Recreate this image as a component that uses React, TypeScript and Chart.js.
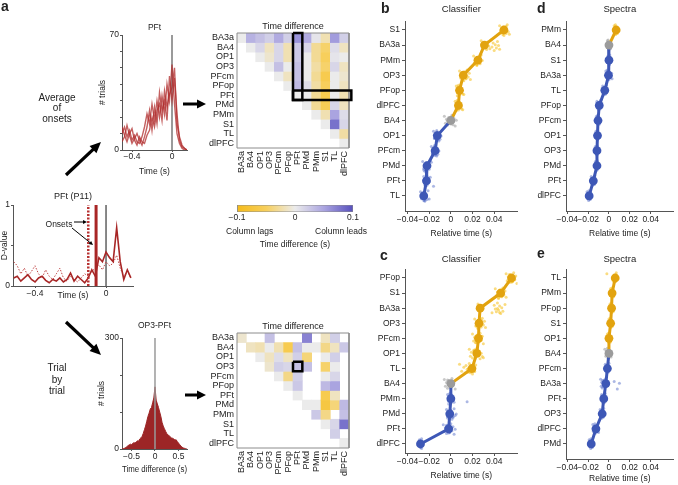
import React, { useEffect, useRef } from 'react';
import { Chart, registerables } from 'chart.js';

Chart.register(...registerables);

const FONT = "'Liberation Sans', Arial, Helvetica, sans-serif";
Chart.defaults.font.family = FONT;
Chart.defaults.color = '#222';

// ---------------- DATA ----------------
// a (top): onset histograms, PFt
const ONSET_T = [-0.5, -0.475, -0.45, -0.425, -0.4, -0.375, -0.35, -0.325, -0.3, -0.275, -0.25, -0.225, -0.2, -0.175, -0.15, -0.125, -0.1, -0.075, -0.05, -0.025, 0, 0.025, 0.05, 0.075, 0.1, 0.125, 0.15];
const ONSET_1 = [10, 14, 8, 12, 6, 9, 5, 4, 8, 14, 22, 16, 28, 18, 30, 20, 33, 22, 40, 30, 52, 28, 10, 4, 1, 0, 0];
const ONSET_2 = [5, 8, 15, 9, 4, 7, 10, 6, 3, 8, 14, 24, 12, 26, 16, 35, 24, 30, 18, 45, 30, 44, 22, 6, 2, 1, 0];
const ONSET_3 = [14, 9, 5, 10, 13, 6, 3, 8, 5, 4, 9, 12, 20, 14, 24, 28, 18, 36, 26, 34, 38, 50, 16, 8, 3, 1, 0];
const ONSET_YTICKS = [0, 10, 20, 30, 40, 50, 60, 70];

// a (middle): D-value trace PFt (P11)
const D_T = [-0.52, -0.5, -0.48, -0.46, -0.44, -0.42, -0.4, -0.38, -0.36, -0.34, -0.32, -0.3, -0.28, -0.26, -0.24, -0.22, -0.2, -0.18, -0.16, -0.14, -0.12, -0.1, -0.08, -0.06, -0.04, -0.02, 0, 0.02, 0.04, 0.06, 0.08, 0.1, 0.12, 0.14];
const D_SOLID = [0.1, 0.12, 0.06, 0.1, 0.14, 0.08, 0.05, 0.1, 0.12, 0.07, 0.04, 0.08, 0.06, 0.1, 0.05, 0.08, 0.16, 0.06, 0.12, 0.08, 0.04, 0.1, 0.2, 0.12, 0.35, 0.3, 0.42, 0.35, 0.3, 0.72, 0.3, 0.08, 0.2, 0.1];
const D_DOTTED = [0.3, 0.25, 0.15, 0.22, 0.12, 0.18, 0.25, 0.15, 0.1, 0.2, 0.12, 0.08, 0.15, 0.22, 0.1, 0.06, 0.12, 0.08, 0.05, 0.1, 0.15, 0.12, 0.18, 0.22, 0.26, 0.2, 0.3, 0.25, 0.28, 0.38, 0.22, 0.12, 0.18, 0.1];
const ONSET_DOTTED = -0.1;
const ONSET_SOLID = -0.056;

// a (bottom): trial-by-trial OP3-PFt time differences
const DIFF_T = [-0.7, -0.675, -0.65, -0.625, -0.6, -0.575, -0.55, -0.525, -0.5, -0.475, -0.45, -0.425, -0.4, -0.375, -0.35, -0.325, -0.3, -0.275, -0.25, -0.225, -0.2, -0.175, -0.15, -0.125, -0.1, -0.075, -0.05, -0.025, 0, 0.025, 0.05, 0.075, 0.1, 0.125, 0.15, 0.175, 0.2, 0.225, 0.25, 0.275, 0.3, 0.325, 0.35, 0.375, 0.4, 0.425, 0.45, 0.475, 0.5, 0.525, 0.55, 0.575, 0.6, 0.625, 0.65, 0.675, 0.7];
const DIFF_N = [1, 1, 2, 4, 6, 9, 11, 13, 12, 15, 17, 16, 19, 22, 21, 27, 30, 34, 42, 52, 62, 75, 88, 97, 108, 112, 125, 138, 168, 132, 122, 112, 100, 88, 72, 62, 55, 48, 42, 38, 36, 33, 30, 29, 27, 24, 25, 20, 16, 12, 8, 5, 3, 2, 1, 0, 0];

// heatmaps
const AREAS = ['BA3a', 'BA4', 'OP1', 'OP3', 'PFcm', 'PFop', 'PFt', 'PMd', 'PMm', 'S1', 'TL', 'dlPFC'];
const N = null;
const HEAT_AVG = [
  [0, 0.04, 0.03, 0.02, 0.045, 0.02, 0.06, 0.045, 0.005, -0.02, 0.055, 0.02],
  [N, 0, 0.015, -0.015, 0.015, -0.02, 0.025, 0.015, -0.03, -0.045, 0.01, -0.015],
  [N, N, 0, -0.01, 0.015, -0.02, 0.025, 0, -0.03, -0.05, 0.005, 0],
  [N, N, N, 0, 0.03, 0, 0.03, 0, -0.025, -0.045, 0.015, -0.015],
  [N, N, N, N, 0, -0.015, 0.03, 0, -0.03, -0.06, 0, -0.01],
  [N, N, N, N, N, 0, 0.035, 0.01, -0.025, -0.05, 0, -0.015],
  [N, N, N, N, N, N, 0, 0, -0.03, -0.06, 0, -0.02],
  [N, N, N, N, N, N, N, 0, -0.03, -0.055, 0.015, -0.015],
  [N, N, N, N, N, N, N, N, 0, -0.02, 0.05, 0.01],
  [N, N, N, N, N, N, N, N, N, 0, 0.08, 0.015],
  [N, N, N, N, N, N, N, N, N, N, 0, -0.025],
  [N, N, N, N, N, N, N, N, N, N, N, 0],
];
const HEAT_TRIAL = [
  [-0.01, N, N, 0.03, N, N, N, 0.07, N, -0.015, 0.02, N],
  [N, -0.015, -0.02, 0, -0.02, -0.06, 0.03, 0, 0, -0.035, -0.015, 0.025],
  [N, N, 0, -0.015, 0.01, -0.015, 0.02, -0.04, N, 0, 0.02, N],
  [N, N, N, -0.01, 0.02, 0.015, 0.03, 0.03, N, -0.045, 0, N],
  [N, N, N, N, 0, -0.035, 0.02, N, N, 0, 0.015, N],
  [N, N, N, N, N, 0, 0.025, N, N, 0.035, 0.05, N],
  [N, N, N, N, N, N, 0, N, N, -0.06, -0.015, N],
  [N, N, N, N, N, N, N, 0, 0, -0.07, -0.04, 0.035],
  [N, N, N, N, N, N, N, N, 0.025, -0.035, N, 0.03],
  [N, N, N, N, N, N, N, N, N, 0, 0.015, 0.08],
  [N, N, N, N, N, N, N, N, N, N, 0.02, N],
  [N, N, N, N, N, N, N, N, N, N, N, 0],
];
// highlighted cells: [col0, row0, col1, row1]
const HEAT_AVG_BOXES = [[6, 0, 6, 6], [6, 6, 11.25, 6]];
const HEAT_TRIAL_BOXES = [[6, 3, 6, 3]];

// colour scale
const CMAP_VALUES = [-0.1, -0.05, 0, 0.05, 0.1];
const CMAP_COLORS = ['#f5bb1a', '#f7cf5c', '#ebebeb', '#aaa4e0', '#5750bd'];
const CBAR_TICKS = [-0.1, 0, 0.1];

// b-e: relative timing
const REL_TICKS = [-0.04, -0.02, 0, 0.02, 0.04];
const CLOUD_DY = [-0.28, 0.18, -0.08, 0.3, -0.2, 0.06, 0.24, -0.34, 0.12, -0.14, 0.36, -0.02, 0.2, -0.24, 0.02, 0.28];

const B_ROWS = ['S1', 'BA3a', 'PMm', 'OP3', 'PFop', 'dlPFC', 'BA4', 'OP1', 'PFcm', 'PMd', 'PFt', 'TL'];
const B_MEANS = [0.049, 0.031, 0.025, 0.0115, 0.008, 0.007, 0, -0.0125, -0.0145, -0.022, -0.0225, -0.025];
const B_CLOUDS = [
  [0.045, 0.046, 0.047, 0.048, 0.049, 0.05, 0.051, 0.052, 0.053, 0.047, 0.049, 0.05, 0.048, 0.051, 0.046, 0.054],
  [0.028, 0.03, 0.032, 0.033, 0.034, 0.035, 0.036, 0.037, 0.038, 0.039, 0.04, 0.041, 0.042, 0.043, 0.044, 0.045],
  [0.021, 0.022, 0.023, 0.024, 0.025, 0.026, 0.027, 0.028, 0.023, 0.025, 0.024, 0.026, 0.022, 0.027, 0.029, 0.024],
  [0.008, 0.009, 0.01, 0.011, 0.012, 0.013, 0.014, 0.015, 0.016, 0.017, 0.012, 0.01, 0.014, 0.013, 0.011, 0.018],
  [0.005, 0.006, 0.007, 0.008, 0.009, 0.01, 0.011, 0.007, 0.008, 0.009, 0.006, 0.01, 0.008, 0.007, 0.009, 0.012],
  [0.004, 0.005, 0.006, 0.007, 0.008, 0.009, 0.01, 0.006, 0.007, 0.008, 0.005, 0.009, 0.007, 0.006, 0.008, 0.011],
  [-0.006, -0.005, -0.004, -0.003, -0.002, -0.001, 0, 0.001, 0.002, 0.003, 0.004, 0.005, -0.002, 0.001, -0.003, 0.002],
  [-0.016, -0.015, -0.014, -0.013, -0.012, -0.011, -0.01, -0.013, -0.012, -0.014, -0.011, -0.012, -0.015, -0.013, -0.009, -0.012],
  [-0.018, -0.017, -0.016, -0.015, -0.014, -0.013, -0.012, -0.015, -0.014, -0.016, -0.013, -0.014, -0.017, -0.015, -0.011, -0.014],
  [-0.026, -0.025, -0.024, -0.023, -0.022, -0.021, -0.02, -0.019, -0.023, -0.022, -0.024, -0.021, -0.022, -0.018, -0.023, -0.025],
  [-0.025, -0.024, -0.023, -0.022, -0.021, -0.02, -0.023, -0.022, -0.024, -0.021, -0.016, -0.022, -0.023, -0.019, -0.022, -0.024],
  [-0.028, -0.027, -0.026, -0.025, -0.024, -0.023, -0.022, -0.021, -0.025, -0.026, -0.024, -0.023, -0.02, -0.025, -0.027, -0.024],
];

const C_ROWS = ['PFop', 'S1', 'BA3a', 'OP3', 'PFcm', 'OP1', 'TL', 'BA4', 'PMm', 'PMd', 'PFt', 'dlPFC'];
const C_MEANS = [0.056, 0.046, 0.027, 0.026, 0.0255, 0.024, 0.0195, 0, 0, -0.001, -0.002, -0.028];
const C_CLOUDS = [
  [0.051, 0.052, 0.053, 0.054, 0.055, 0.056, 0.057, 0.058, 0.059, 0.06, 0.061, 0.055, 0.057, 0.054, 0.058, 0.056],
  [0.041, 0.042, 0.043, 0.044, 0.045, 0.046, 0.047, 0.048, 0.049, 0.05, 0.044, 0.046, 0.043, 0.047, 0.045, 0.051],
  [0.025, 0.027, 0.029, 0.038, 0.04, 0.041, 0.042, 0.043, 0.044, 0.045, 0.046, 0.047, 0.048, 0.05, 0.043, 0.045],
  [0.022, 0.023, 0.024, 0.025, 0.026, 0.027, 0.028, 0.029, 0.03, 0.031, 0.025, 0.027, 0.024, 0.028, 0.026, 0.032],
  [0.02, 0.021, 0.022, 0.023, 0.024, 0.025, 0.026, 0.027, 0.028, 0.029, 0.03, 0.024, 0.026, 0.025, 0.027, 0.023],
  [0.017, 0.018, 0.019, 0.02, 0.021, 0.022, 0.023, 0.024, 0.025, 0.026, 0.027, 0.028, 0.029, 0.022, 0.025, 0.03],
  [0.008, 0.01, 0.012, 0.013, 0.014, 0.015, 0.016, 0.017, 0.018, 0.019, 0.02, 0.021, 0.022, 0.023, 0.016, 0.018],
  [-0.006, -0.005, -0.004, -0.003, -0.002, -0.001, 0, 0.001, 0.002, 0.003, 0.004, -0.002, 0.001, -0.003, 0.002, 0],
  [-0.003, -0.002, -0.001, 0, 0.001, 0.002, 0.003, -0.001, 0.001, 0, -0.002, 0.002, 0.015, 0.001, -0.001, 0],
  [-0.004, -0.003, -0.002, -0.001, 0, 0.001, 0.002, 0.003, 0.004, -0.002, 0.001, -0.001, 0.002, 0, 0.005, -0.003],
  [-0.007, -0.006, -0.005, -0.004, -0.003, -0.002, -0.001, 0, 0.001, 0.002, 0.003, -0.003, -0.001, -0.004, 0.004, -0.002],
  [-0.029, -0.028, -0.028, -0.027, -0.028, -0.029, -0.028, -0.027],
];

const D_ROWS = ['PMm', 'BA4', 'S1', 'BA3a', 'TL', 'PFop', 'PFcm', 'OP1', 'OP3', 'PMd', 'PFt', 'dlPFC'];
const D_MEANS = [0.0069, 0, 0, -0.0005, -0.004, -0.0093, -0.0105, -0.011, -0.0115, -0.0115, -0.015, -0.019];
const D_CLOUDS = [
  [0.005, 0.0055, 0.006, 0.0065, 0.007, 0.0075, 0.008, 0.0062, 0.0072, 0.0068],
  [-0.0015, -0.001, -0.0005, 0, 0.0005, 0.001, 0.0015, -0.0008, 0.0003, 0.0008],
  [-0.001, -0.0005, 0, 0.0005, 0.001, -0.0003, 0.0003, 0.0008, -0.0008, 0],
  [-0.003, -0.002, -0.001, 0, 0.001, 0.002, 0.003, -0.0015, 0.0015, 0.0025],
  [-0.006, -0.0055, -0.005, -0.0045, -0.004, -0.0035, -0.003, -0.0025, -0.0042, -0.0038],
  [-0.0115, -0.011, -0.0105, -0.01, -0.0095, -0.009, -0.0085, -0.008, -0.0075, -0.0092],
  [-0.012, -0.0115, -0.011, -0.0105, -0.01, -0.0095, -0.009, -0.0108, -0.0102, -0.0112],
  [-0.0125, -0.012, -0.0115, -0.011, -0.0105, -0.01, -0.0112, -0.0108, -0.0118, -0.0102],
  [-0.013, -0.0125, -0.012, -0.0115, -0.011, -0.0105, -0.0118, -0.0112, -0.0122, -0.0108],
  [-0.013, -0.0125, -0.012, -0.0115, -0.011, -0.0105, -0.0116, -0.0113, -0.012, -0.011],
  [-0.017, -0.0165, -0.016, -0.0155, -0.015, -0.0145, -0.014, -0.0135, -0.0152, -0.0148],
  [-0.021, -0.0205, -0.02, -0.0195, -0.019, -0.0185, -0.018, -0.0192, -0.0188, -0.0198],
];

const E_ROWS = ['TL', 'PMm', 'PFop', 'S1', 'OP1', 'BA4', 'PFcm', 'BA3a', 'PFt', 'OP3', 'dlPFC', 'PMd'];
const E_MEANS = [0.006, 0.003, 0.0025, 0.0016, 0, 0, -0.0015, -0.003, -0.005, -0.0065, -0.0125, -0.017];
const E_CLOUDS = [
  [-0.002, 0.004, 0.0045, 0.005, 0.0055, 0.006, 0.0065, 0.007, 0.0058, 0.0062],
  [0.0015, 0.002, 0.0025, 0.003, 0.0035, 0.004, 0.0045, 0.0028, 0.0032, 0.003],
  [0.001, 0.0015, 0.002, 0.0025, 0.003, 0.0035, 0.004, 0.0022, 0.0028, 0.0025],
  [0, 0.0005, 0.001, 0.0015, 0.002, 0.0025, 0.003, 0.0012, 0.0018, 0.0016],
  [-0.0015, -0.001, -0.0005, 0, 0.0005, 0.001, 0.0015, -0.0003, 0.0003, 0],
  [-0.004, -0.003, -0.002, -0.001, 0, 0.001, 0.002, -0.0015, 0.0005, -0.0025],
  [-0.0035, -0.003, -0.0025, -0.002, -0.0015, -0.001, -0.0005, 0, -0.0018, -0.0012],
  [-0.008, -0.0075, -0.007, -0.0065, -0.006, -0.005, -0.004, -0.003, -0.002, 0.005, 0.008, 0.01, -0.0055, -0.0045],
  [-0.007, -0.0065, -0.006, -0.0055, -0.005, -0.0045, -0.004, -0.0035, -0.003, -0.0052],
  [-0.0085, -0.008, -0.0075, -0.007, -0.0065, -0.006, -0.0055, -0.005, -0.0068, -0.0062],
  [-0.0155, -0.015, -0.014, -0.013, -0.012, -0.011, -0.01, -0.0135, -0.0125, -0.0115],
  [-0.019, -0.0185, -0.018, -0.0175, -0.017, -0.0165, -0.016, -0.0172, -0.0178, -0.0168],
];

// ---------------- STYLE ----------------
const INK = '#222';
const AXIS = '#555';
const BLUE = '#3d57b6';
const GOLD = '#e2a30f';
const GRAY = '#9b9b9b';
const BLUE_L = 'rgba(72,98,196,0.45)';
const GOLD_L = 'rgba(247,197,45,0.6)';
const GRAY_L = 'rgba(165,165,165,0.6)';
const RED = 'rgba(176,44,44,0.75)';
const DARK_RED = '#9c2526';
const TICK_FONT = { family: FONT, size: 8.5 };
const HEAT_FONT = { family: FONT, size: 9 };

interface Geo { left: number; top: number; width: number; height: number; yW: number; xH: number; titlePad: number; padT: number; padR: number; padL: number; }
function makeGeo(p: { L: number; T: number; R: number; B: number; left: number; titleY?: number; titleSize?: number; padT?: number; bottom: number; padR: number; padL?: number }): Geo {
  const lh = (p.titleSize ?? 9) * 1.2;
  const top = p.titleY != null ? Math.round(p.titleY - lh / 2) : Math.round(p.T - (p.padT ?? 0));
  const titlePad = p.titleY != null ? p.T - top - lh : 0;
  const padT = p.titleY != null ? 0 : p.T - top;
  const padL = p.padL ?? 0;
  const width = Math.round(p.R + p.padR - p.left);
  const bottom = Math.round(p.bottom);
  return { left: p.left, top, width, height: bottom - top, yW: p.L - p.left - padL, xH: bottom - p.B, titlePad, padT, padR: p.left + width - p.R, padL };
}

const G_ONSET = makeGeo({ L: 122, T: 35, R: 187, B: 150, left: 98, titleY: 28, titleSize: 8.5, bottom: 177, padR: 3 });
const G_DVAL = makeGeo({ L: 13, T: 205, R: 133, B: 286, left: 0, titleY: 196, titleSize: 9, bottom: 301, padR: 3 });
const G_DIFF = makeGeo({ L: 122, T: 338, R: 187, B: 449, left: 97, titleY: 326, titleSize: 8.5, bottom: 475, padR: 3 });
const G_H1 = makeGeo({ L: 237, T: 33, R: 349, B: 148, left: 195, titleY: 26, titleSize: 9, bottom: 198, padR: 10 });
const G_H2 = makeGeo({ L: 237, T: 333, R: 349, B: 448, left: 195, titleY: 326, titleSize: 9, bottom: 493, padR: 10 });
const G_CB = makeGeo({ L: 237, T: 205, R: 353, B: 212, left: 225, padL: 12, padT: 2, bottom: 226, padR: 12 });
const G_SB = makeGeo({ L: 405, T: 21.7, R: 518, B: 211, left: 360, titleY: 10, titleSize: 9.5, bottom: 239, padR: 4 });
const G_SD = makeGeo({ L: 566, T: 21.7, R: 677, B: 211, left: 521, titleY: 10, titleSize: 9.5, bottom: 239, padR: 1 });
const G_SC = makeGeo({ L: 405, T: 269.7, R: 518, B: 453, left: 360, titleY: 260, titleSize: 9.5, bottom: 481, padR: 4 });
const G_SE = makeGeo({ L: 566, T: 269.7, R: 677, B: 459, left: 521, titleY: 260, titleSize: 9.5, bottom: 484, padR: 1 });

const fmt = (v: number) => (v < 0 ? '\u2212' + String(Math.abs(v)) : String(v));
const NO_GRID = { display: false, drawTicks: false, tickLength: 0 };

function axis(min: number, max: number, ticks: number[], o: any = {}) {
  return {
    type: 'linear', min, max, reverse: !!o.reverse, offset: false,
    afterBuildTicks: (s: any) => { s.ticks = ticks.map((v) => ({ value: v })); },
    afterFit: (s: any) => { if (s.isHorizontal()) s.height = o.fit; else s.width = o.fit; },
    ticks: { autoSkip: false, maxRotation: o.rot ?? 0, minRotation: o.rot ?? 0, padding: o.pad ?? 1, font: o.font ?? TICK_FONT, color: INK, callback: o.label ?? ((v: number) => fmt(v)) },
    grid: o.noGrid ? NO_GRID : { display: true, drawOnChartArea: false, drawTicks: true, tickLength: o.tl ?? 3, color: AXIS, tickColor: AXIS },
    border: { display: !o.noBorder, color: AXIS, width: 1 },
    title: o.title ? { display: true, text: o.title, font: TICK_FONT, color: INK, padding: 0 } : { display: false },
  };
}

function baseOptions(g: Geo, title: string | null, titleSize: number, scales: any) {
  return {
    responsive: false, animation: false, events: [],
    layout: { padding: { top: g.padT, right: g.padR, left: g.padL, bottom: 0 } },
    plugins: {
      legend: { display: false }, tooltip: { enabled: false },
      title: title ? { display: true, text: title, font: { family: FONT, size: titleSize, weight: 'normal' }, color: INK, padding: { top: 0, bottom: g.titlePad }, fullSize: false } : { display: false },
    },
    scales,
  };
}

const pts = (xs: number[], ys: number[]) => xs.map((x, i) => ({ x, y: ys[i] }));
const vline = (x: number, y0: number, y1: number) => [{ x, y: y0 }, { x, y: y1 }];

function onsetConfig() {
  const g = G_ONSET;
  const ln = (ys: number[]) => ({ data: pts(ONSET_T, ys), showLine: true, borderColor: RED, borderWidth: 1.4, pointRadius: 0 });
  return {
    type: 'scatter',
    data: { datasets: [ln(ONSET_1), ln(ONSET_2), ln(ONSET_3), { data: vline(0, 0, 70), showLine: true, borderColor: '#9a9a9a', borderWidth: 2, pointRadius: 0 }] },
    options: baseOptions(g, 'PFt', 8.5, {
      x: axis(-0.5, 0.15, [-0.4, 0], { fit: g.xH, title: 'Time (s)', tl: 2, pad: 0 }),
      y: axis(0, 70, ONSET_YTICKS, { fit: g.yW, title: '# trials', tl: 2, pad: 1, label: (v: number) => (v === 0 || v === 70 ? String(v) : '') }),
    }),
  };
}

function dvalConfig() {
  const g = G_DVAL;
  return {
    type: 'scatter',
    data: {
      datasets: [
        { data: vline(ONSET_SOLID, 0, 1), showLine: true, borderColor: '#a82626', borderWidth: 3, pointRadius: 0 },
        { data: vline(ONSET_DOTTED, 0, 1), showLine: true, borderColor: '#b83232', borderWidth: 2.5, borderDash: [2, 1.5], pointRadius: 0 },
        { data: pts(D_T, D_SOLID), showLine: true, borderColor: '#a82626', borderWidth: 1.6, pointRadius: 0 },
        { data: pts(D_T, D_DOTTED), showLine: true, borderColor: '#c04848', borderWidth: 1, borderDash: [1.5, 1.5], pointRadius: 0 },
        { data: vline(0, 0, 1), showLine: true, borderColor: '#111', borderWidth: 1, pointRadius: 0 },
      ],
    },
    options: baseOptions(g, 'PFt (P11)', 9, {
      x: axis(-0.524, 0.152, [-0.4, 0], { fit: g.xH, title: 'Time (s)', tl: 2, pad: 1 }),
      y: axis(0, 1, [0, 0.5, 1], { fit: g.yW, title: 'D-value', tl: 2, pad: 1, label: (v: number) => (v === 0 || v === 1 ? String(v) : '') }),
    }),
  };
}

function diffConfig() {
  const g = G_DIFF;
  return {
    type: 'scatter',
    data: {
      datasets: [
        { data: vline(0, 0, 300), showLine: true, borderColor: '#9a9a9a', borderWidth: 1.5, pointRadius: 0 },
        { data: pts(DIFF_T, DIFF_N), showLine: true, fill: 'origin', backgroundColor: DARK_RED, borderColor: DARK_RED, borderWidth: 1, pointRadius: 0 },
      ],
    },
    options: baseOptions(g, 'OP3-PFt', 8.5, {
      x: axis(-0.702, 0.681, [-0.5, 0, 0.5], { fit: g.xH, title: 'Time difference (s)', tl: 2, pad: 1 }),
      y: axis(0, 300, [0, 100, 200, 300], { fit: g.yW, title: '# trials', tl: 2, pad: 1, label: (v: number) => (v === 0 || v === 300 ? String(v) : '') }),
    }),
  };
}

function hexToRgb(h: string) { const n = parseInt(h.slice(1), 16); return [(n >> 16) & 255, (n >> 8) & 255, n & 255]; }
function cmap(v: number) {
  const vs = CMAP_VALUES; const cs = CMAP_COLORS.map(hexToRgb);
  const x = Math.max(vs[0], Math.min(vs[vs.length - 1], v));
  let i = 0; while (i < vs.length - 2 && x > vs[i + 1]) i++;
  const t = (x - vs[i]) / (vs[i + 1] - vs[i]);
  const c = cs[i].map((a, k) => Math.round(a + (cs[i + 1][k] - a) * t));
  return `rgb(${c[0]},${c[1]},${c[2]})`;
}

function heatConfig(values: (number | null)[][], boxes: number[][], g: Geo) {
  const n = AREAS.length;
  const rect = (c0: number, r0: number, c1: number, r1: number) => [
    { x: c0 - 0.5, y: r0 - 0.5 }, { x: c1 + 0.5, y: r0 - 0.5 }, { x: c1 + 0.5, y: r1 + 0.5 }, { x: c0 - 0.5, y: r1 + 0.5 }, { x: c0 - 0.5, y: r0 - 0.5 },
  ];
  const lineDs = (p: any[], color: string, w: number) => ({ type: 'line', data: p, borderColor: color, borderWidth: w, pointRadius: 0, fill: false, clip: false, tension: 0, borderJoinStyle: 'miter' });
  const datasets: any[] = [
    ...boxes.map((b) => lineDs(rect(b[0], b[1], b[2], b[3]), '#000', 2.5)),
    lineDs(rect(0, 0, n - 1, n - 1), '#8c8c8c', 1),
    ...values.map((row, r) => {
      const cells = row.map((v, c) => ({ v, c })).filter((o) => o.v != null);
      return {
        type: 'bar',
        data: cells.map((o) => ({ x: o.c, y: [r - 0.5, r + 0.5] })),
        backgroundColor: cells.map((o) => cmap(o.v as number)),
        borderWidth: 0, grouped: false, barPercentage: 1, categoryPercentage: 1,
      };
    }),
  ];
  const idx = AREAS.map((_, i) => i);
  return {
    type: 'bar',
    data: { datasets },
    options: baseOptions(g, 'Time difference', 9, {
      x: axis(-0.5, n - 0.5, idx, { fit: g.xH, noGrid: true, noBorder: true, pad: 3, rot: 90, font: HEAT_FONT, label: (v: number) => AREAS[v] ?? '' }),
      y: axis(-0.5, n - 0.5, idx, { fit: g.yW, noGrid: true, noBorder: true, pad: 3, reverse: true, font: HEAT_FONT, label: (v: number) => AREAS[v] ?? '' }),
    }),
  };
}

function cbarConfig() {
  const g = G_CB;
  const lo = CMAP_VALUES[0], hi = CMAP_VALUES[CMAP_VALUES.length - 1];
  const grad = (ctx: any) => {
    const ch = ctx.chart; const a = ch.chartArea;
    if (!a) return 'rgba(0,0,0,0)';
    const gr = ch.ctx.createLinearGradient(a.left, 0, a.right, 0);
    CMAP_VALUES.forEach((v, i) => gr.addColorStop((v - lo) / (hi - lo), CMAP_COLORS[i]));
    return gr;
  };
  return {
    type: 'line',
    data: {
      datasets: [
        { data: [{ x: lo, y: 0 }, { x: hi, y: 0 }, { x: hi, y: 1 }, { x: lo, y: 1 }, { x: lo, y: 0 }], borderColor: '#8c8c8c', borderWidth: 1, pointRadius: 0, fill: false },
        { data: [{ x: lo, y: 1 }, { x: hi, y: 1 }], borderWidth: 0, pointRadius: 0, fill: 'start', backgroundColor: grad },
      ],
    },
    options: baseOptions(g, null, 9, {
      x: axis(lo, hi, CBAR_TICKS, { fit: g.xH, noGrid: true, noBorder: true, pad: 1 }),
      y: { type: 'linear', min: 0, max: 1, display: false },
    }),
  };
}

function scatterConfig(rows: string[], means: number[], clouds: number[][], title: string, g: Geo, xmin: number, xmax: number, ymax: number) {
  const ref = rows.indexOf('BA4');
  const col = (i: number) => (i < ref ? GOLD : i === ref ? GRAY : BLUE);
  const colL = (i: number) => (i < ref ? GOLD_L : i === ref ? GRAY_L : BLUE_L);
  const datasets: any[] = [
    {
      data: means.map((m, i) => ({ x: m, y: i })), showLine: true, borderWidth: 3, borderColor: BLUE,
      pointRadius: 4.4, pointBackgroundColor: means.map((_, i) => col(i)), pointBorderColor: means.map((_, i) => col(i)), pointBorderWidth: 0,
      segment: { borderColor: (c: any) => (col(c.p0DataIndex) === GRAY ? col(c.p1DataIndex) : col(c.p0DataIndex)) },
    },
    ...clouds.map((xs, i) => ({
      data: xs.map((x, k) => ({ x, y: i + CLOUD_DY[k % CLOUD_DY.length] })),
      pointRadius: 1.5, pointBackgroundColor: colL(i), pointBorderWidth: 0, showLine: false,
    })),
  ];
  return {
    type: 'scatter',
    data: { datasets },
    options: baseOptions(g, title, 9.5, {
      x: axis(xmin, xmax, REL_TICKS, { fit: g.xH, title: 'Relative time (s)', tl: 3, pad: 1 }),
      y: axis(-0.55, ymax, rows.map((_, i) => i), { fit: g.yW, reverse: true, tl: 3, pad: 2, label: (v: number) => rows[v] ?? '' }),
    }),
  };
}

function ChartBox({ g, make }: { g: Geo; make: () => any }) {
  const ref = useRef<HTMLCanvasElement>(null);
  useEffect(() => {
    const chart = new Chart(ref.current as HTMLCanvasElement, make());
    return () => chart.destroy();
  }, []);
  return <canvas ref={ref} width={g.width} height={g.height} style={{ position: 'absolute', left: g.left, top: g.top, width: g.width, height: g.height }} />;
}

function Arrow({ x1, y1, x2, y2, w, hl, hw }: { x1: number; y1: number; x2: number; y2: number; w: number; hl: number; hw: number }) {
  const dx = x2 - x1, dy = y2 - y1, len = Math.hypot(dx, dy);
  const ux = dx / len, uy = dy / len;
  const bx = x2 - ux * hl, by = y2 - uy * hl;
  const px = -uy, py = ux;
  return (
    <g>
      <line x1={x1} y1={y1} x2={bx + ux} y2={by + uy} stroke="#000" strokeWidth={w} />
      <polygon points={`${x2},${y2} ${bx + (px * hw) / 2},${by + (py * hw) / 2} ${bx - (px * hw) / 2},${by - (py * hw) / 2}`} fill="#000" />
    </g>
  );
}

function Label({ x, y, text, size = 8.5, lh, bold, align = 'center', w = 80 }: { x: number; y: number; text: string; size?: number; lh?: number; bold?: boolean; align?: 'center' | 'left'; w?: number }) {
  const lineH = lh ?? size * 1.2;
  const left = align === 'center' ? x - w / 2 : x;
  return (
    <div style={{ position: 'absolute', left, top: y - lineH / 2, width: w, textAlign: align, fontSize: size, lineHeight: `${lineH}px`, fontWeight: bold ? 'bold' : 'normal', whiteSpace: 'pre', color: INK, fontFamily: FONT }}>{text}</div>
  );
}

export default function App() {
  return (
    <div style={{ position: 'absolute', left: 0, top: 0, width: 678, height: 485, overflow: 'hidden', background: '#fff' }}>
      <ChartBox g={G_ONSET} make={onsetConfig} />
      <ChartBox g={G_DVAL} make={dvalConfig} />
      <ChartBox g={G_DIFF} make={diffConfig} />
      <ChartBox g={G_H1} make={() => heatConfig(HEAT_AVG, HEAT_AVG_BOXES, G_H1)} />
      <ChartBox g={G_H2} make={() => heatConfig(HEAT_TRIAL, HEAT_TRIAL_BOXES, G_H2)} />
      <ChartBox g={G_CB} make={cbarConfig} />
      <ChartBox g={G_SB} make={() => scatterConfig(B_ROWS, B_MEANS, B_CLOUDS, 'Classifier', G_SB, -0.0423, 0.0616, 12.0)} />
      <ChartBox g={G_SD} make={() => scatterConfig(D_ROWS, D_MEANS, D_CLOUDS, 'Spectra', G_SD, -0.0412, 0.062, 12.0)} />
      <ChartBox g={G_SC} make={() => scatterConfig(C_ROWS, C_MEANS, C_CLOUDS, 'Classifier', G_SC, -0.0423, 0.0616, 11.6)} />
      <ChartBox g={G_SE} make={() => scatterConfig(E_ROWS, E_MEANS, E_CLOUDS, 'Spectra', G_SE, -0.0412, 0.062, 12.0)} />
      <svg width={678} height={485} style={{ position: 'absolute', left: 0, top: 0, pointerEvents: 'none' }}>
        <Arrow x1={66} y1={175} x2={101} y2={142} w={3.2} hl={11} hw={10} />
        <Arrow x1={66} y1={322} x2={101} y2={355} w={3.2} hl={11} hw={10} />
        <Arrow x1={183} y1={104} x2={206} y2={104} w={3} hl={9} hw={9} />
        <Arrow x1={185} y1={395} x2={206} y2={395} w={3} hl={9} hw={9} />
        <Arrow x1={74} y1={222} x2={87} y2={222} w={1} hl={4} hw={4} />
        <Arrow x1={72} y1={228} x2={93} y2={245} w={1} hl={4} hw={4} />
      </svg>
      <Label x={1} y={6} text="a" size={14} bold align="left" w={20} />
      <Label x={381} y={8} text="b" size={14} bold align="left" w={20} />
      <Label x={380} y={255} text="c" size={14} bold align="left" w={20} />
      <Label x={537} y={8} text="d" size={14} bold align="left" w={20} />
      <Label x={537} y={253} text="e" size={14} bold align="left" w={20} />
      <Label x={57} y={98} text={'Average\nof\nonsets'} size={10} lh={10.7} />
      <Label x={57} y={368} text={'Trial\nby\ntrial'} size={10} lh={11.5} />
      <Label x={59} y={224} text="Onsets" size={8.5} />
      <Label x={226} y={231} text="Column lags" size={8.5} align="left" />
      <Label x={315} y={231} text="Column leads" size={8.5} align="left" />
      <Label x={295} y={244} text="Time difference (s)" size={8.5} w={120} />
    </div>
  );
}
